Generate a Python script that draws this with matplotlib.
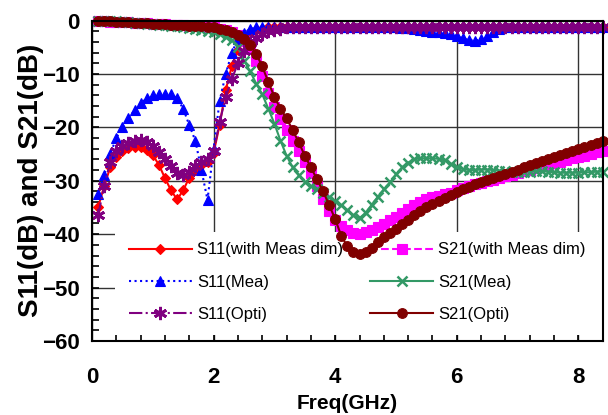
import numpy as np
import matplotlib
matplotlib.use("Agg")
import matplotlib.pyplot as plt
from matplotlib.ticker import MultipleLocator
from matplotlib.patches import Rectangle

plt.rcParams['font.family'] = ['Liberation Sans', 'DejaVu Sans']

freq = np.round(np.arange(1, 85) * 0.1, 2)  # 0.1 .. 8.4 GHz

s11_meas_dim = [-35, -31, -27.5, -25.5, -24.5, -23.9, -23.6, -23.6, -24.2, -25.2,
                -27, -29.5, -31.8, -33.5, -31.8, -29.4, -28, -27, -26.5, -24.8,
                -19.5, -13, -8.5, -5.5, -3.5, -2.4, -1.8, -1.5, -1.3, -1.2,
                -1.2, -1.2, -1.2, -1.2, -1.2, -1.2, -1.2, -1.2, -1.2, -1.2,
                -1.2, -1.2, -1.2, -1.2, -1.2, -1.2, -1.2, -1.2, -1.2, -1.2,
                -1.2, -1.2, -1.2, -1.2, -1.2, -1.2, -1.2, -1.2, -1.2, -1.2,
                -1.2, -1.2, -1.2, -1.2, -1.2, -1.2, -1.2, -1.2, -1.2, -1.2,
                -1.2, -1.2, -1.2, -1.2, -1.2, -1.2, -1.2, -1.2, -1.2, -1.2,
                -1.2, -1.2, -1.2, -1.2]

s11_mea = [-32.5, -29, -25, -22, -20, -18.3, -16.8, -15.5, -14.6, -14.0,
           -13.7, -13.7, -13.8, -14.6, -16.5, -19.6, -22.5, -28, -33.6, -24,
           -15, -10, -6, -3.5, -2.3, -1.6, -1.3, -1.2, -1.2, -1.2,
           -1.2, -1.2, -1.2, -1.2, -1.2, -1.2, -1.2, -1.2, -1.2, -1.2,
           -1.2, -1.2, -1.2, -1.2, -1.2, -1.2, -1.2, -1.2, -1.3, -1.3,
           -1.4, -1.4, -1.5, -1.8, -2.0, -2.1, -2.2, -2.3, -2.5, -2.9,
           -3.3, -3.7, -3.8, -3.5, -2.9, -2.2, -1.6, -1.3, -1.2, -1.2,
           -1.2, -1.2, -1.2, -1.2, -1.2, -1.2, -1.2, -1.2, -1.2, -1.2,
           -1.2, -1.2, -1.2, -1.2]

s11_opti = [-36.5, -31, -26.5, -24.5, -23.5, -22.9, -22.5, -22.4, -22.7, -23.5,
            -24.6, -25.9, -27.3, -28.5, -28.9, -28.3, -27.3, -26.4, -25.9, -24.5,
            -19, -14.3, -11, -8, -5.8, -4.2, -3.2, -2.5, -2.0, -1.7,
            -1.5, -1.3, -1.2, -1.2, -1.2, -1.2, -1.2, -1.2, -1.2, -1.2,
            -1.2, -1.2, -1.2, -1.2, -1.2, -1.2, -1.2, -1.2, -1.2, -1.2,
            -1.2, -1.2, -1.2, -1.2, -1.2, -1.2, -1.2, -1.2, -1.2, -1.2,
            -1.2, -1.2, -1.2, -1.2, -1.2, -1.2, -1.2, -1.2, -1.2, -1.2,
            -1.2, -1.2, -1.2, -1.2, -1.2, -1.2, -1.2, -1.2, -1.2, -1.2,
            -1.2, -1.2, -1.2, -1.2]

s21_meas_dim = [-0.1, -0.1, -0.2, -0.2, -0.3, -0.3, -0.4, -0.4, -0.5, -0.6,
                -0.6, -0.7, -0.8, -0.8, -0.9, -1.0, -1.0, -1.1, -1.2, -1.3,
                -1.5, -1.8, -2.2, -2.8, -3.8, -5.3, -7.5, -10.3, -13.5, -16.2,
                -18.5, -20.5, -22.5, -24.5, -26.5, -28.5, -31, -33.5, -35.7, -37.3,
                -38.5, -39.3, -39.8, -39.9, -39.6, -39.2, -38.7, -38.1, -37.4, -36.7,
                -36, -35.3, -34.6, -34.0, -33.5, -33.1, -32.8, -32.5, -32.2, -31.8,
                -31.4, -31.0, -30.7, -30.4, -30.1, -29.8, -29.5, -29.2, -28.9, -28.5,
                -28.2, -27.9, -27.6, -27.3, -27.0, -26.7, -26.4, -26.1, -25.8, -25.5,
                -25.3, -25.0, -24.7, -24.4]

s21_mea = [0, 0, -0.1, -0.1, -0.2, -0.3, -0.4, -0.5, -0.6, -0.7,
           -0.8, -0.9, -1.0, -1.1, -1.2, -1.4, -1.5, -1.7, -1.9, -2.1,
           -2.5, -3.0, -3.7, -5.0, -7.5, -9.5, -11.8, -13.8, -16.5, -19.3,
           -22.5, -25.3, -27.5, -29, -30.2, -31, -31.5, -32.2, -33, -33.8,
           -34.6, -35.5, -36.5, -37, -36, -34.5, -33, -31.6, -30.3, -28.8,
           -27.5, -26.6, -26.0, -25.8, -25.8, -25.8, -25.9, -26.2, -26.8, -27.4,
           -27.8, -28.0, -28.0, -27.9, -27.9, -28.0, -28.1, -28.2, -28.3, -28.3,
           -28.3, -28.3, -28.2, -28.2, -28.3, -28.4, -28.5, -28.5, -28.5, -28.5,
           -28.4, -28.4, -28.3, -28.3]

s21_opti = [0, -0.1, -0.1, -0.2, -0.2, -0.3, -0.4, -0.4, -0.5, -0.6,
            -0.6, -0.7, -0.8, -0.8, -0.9, -1.0, -1.0, -1.1, -1.2, -1.3,
            -1.5, -1.8, -2.2, -2.7, -3.5, -4.6, -6.2, -8.6, -11.5, -14.3,
            -16.5, -18.3, -20.5, -22.8, -25.3, -27.5, -29.7, -32, -34.5, -37.2,
            -40.3, -42.3, -43.4, -43.7, -43.3, -42.5, -41.5, -40.6, -39.8, -39,
            -38.1, -37.3, -36.5, -35.7, -35.0, -34.3, -33.8, -33.2, -32.7, -32.1,
            -31.6, -31.1, -30.7, -30.3, -29.9, -29.5, -29.1, -28.7, -28.3, -27.9,
            -27.5, -27.1, -26.7, -26.3, -25.9, -25.5, -25.2, -24.8, -24.5, -24.1,
            -23.7, -23.4, -23.0, -22.6]

labels = ["S11(with Meas dim)", "S21(with Meas dim)", "S11(Mea)",
          "S21(Mea)", "S11(Opti)", "S21(Opti)"]

fig = plt.figure(figsize=(6.08, 4.15), dpi=100)
ax = fig.add_axes([92/608, 1-341/415, (602.7-92)/608, (341-20.5)/415])

asterisk = (6, 2, 0)
styles = [
    dict(y=s11_meas_dim, color='#FF0000', ls='-', marker='D', ms=5, mew=0.8),
    dict(y=s21_meas_dim, color='#FF00FF', ls='--', marker='s', ms=6.5, mew=0.8),
    dict(y=s11_mea, color='#0000FF', ls=':', marker='^', ms=7.5, mew=0.8),
    dict(y=s21_mea, color='#339966', ls='-', marker='x', ms=7.5, mew=1.8),
    dict(y=s11_opti, color='#800080', ls='-.', marker=asterisk, ms=9.5, mew=2.0),
    dict(y=s21_opti, color='#800000', ls='-', marker='o', ms=7, mew=0.8),
]
handles = []
for lab, st in zip(labels, styles):
    h, = ax.plot(freq, st['y'], color=st['color'], ls=st['ls'], lw=1.5,
                 marker=st['marker'], ms=st['ms'], mew=st['mew'],
                 mec=st['color'], mfc=st['color'], label=lab, clip_on=False,
                 zorder=2)
    handles.append(h)

ax.set_xlim(0, 8.4)
ax.set_ylim(-60, 0)
ax.xaxis.set_major_locator(MultipleLocator(2))
ax.xaxis.set_minor_locator(MultipleLocator(0.4))
ax.yaxis.set_major_locator(MultipleLocator(10))
ax.yaxis.set_minor_locator(MultipleLocator(2))
ax.tick_params(which='both', direction='in', length=5, width=1.2)
ax.tick_params(axis='x', which='major', pad=19, labelsize=16)
ax.tick_params(axis='y', which='major', pad=9, labelsize=16)
for t in ax.get_xticklabels() + ax.get_yticklabels():
    t.set_fontweight('bold')
ax.grid(True, which='major', color='#333333', lw=1)
ax.set_axisbelow(True)
for s in ax.spines.values():
    s.set_linewidth(1.5)
    s.set_zorder(3)

ax.set_ylabel("S11(dB) and S21(dB)", fontsize=20, fontweight='bold')
ax.yaxis.set_label_coords(-0.094, 0.5)
ax.set_xlabel("Freq(GHz)", fontsize=15, fontweight='bold')
ax.xaxis.set_label_coords(0.5, -0.166)

# white legend panel (hides gridlines, drawn under the curves)
panel = Rectangle((0.045, 0.019), 0.955, 0.321, transform=ax.transAxes,
                  facecolor='white', edgecolor='none', zorder=1.5)
ax.add_patch(panel)

order = [0, 2, 4, 1, 3, 5]
leg = ax.legend([handles[i] for i in order], [labels[i] for i in order],
                ncol=2, loc='upper left', bbox_to_anchor=(0.0719, 0.3076),
                fontsize=12, handlelength=3.8, handletextpad=0.3,
                columnspacing=1.6, labelspacing=1.03, numpoints=1,
                frameon=False, borderpad=0, borderaxespad=0)
leg.set_zorder(1.6)

fig.savefig("out.png", dpi=100)
